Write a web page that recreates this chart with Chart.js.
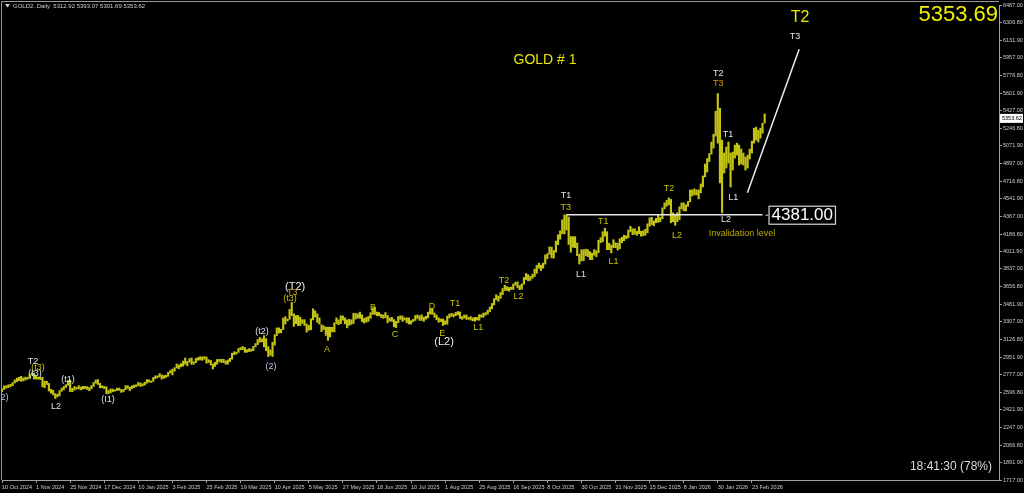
<!DOCTYPE html>
<html lang="en">
<head>
  <meta charset="UTF-8">
  <title>GOLD # 1</title>
  <script src="https://cdn.jsdelivr.net/npm/chart.js"></script>
  <style>
    html, body {
      margin: 0;
      padding: 0;
      background: #000;
      overflow: hidden;
    }
    #wrap {
      width: 1024px;
      height: 493px;
    }
  </style>
</head>
<body>
  <div id="wrap"><canvas id="chart" width="1024" height="493"></canvas></div>

  <script>
    // x axis labels, one every 16 daily bars
    const dateLabels = ['10 Oct 2024', '1 Nov 2024', '25 Nov 2024', '17 Dec 2024', '10 Jan 2025', '3 Feb 2025',
      '25 Feb 2025', '19 Mar 2025', '10 Apr 2025', '5 May 2025', '27 May 2025', '18 Jun 2025', '10 Jul 2025',
      '1 Aug 2025', '25 Aug 2025', '16 Sep 2025', '8 Oct 2025', '30 Oct 2025', '21 Nov 2025', '15 Dec 2025',
      '8 Jan 2026', '30 Jan 2026', '23 Feb 2026'];

    // price scale labels on the right
    const priceTicks = [6487.00, 6306.80, 6131.90, 5957.00, 5776.80, 5601.90, 5427.00, 5246.80, 5071.90, 4897.00,
      4716.80, 4541.90, 4367.00, 4186.80, 4011.90, 3837.00, 3656.80, 3481.90, 3307.00, 3126.80, 2951.90,
      2777.00, 2596.80, 2421.90, 2247.00, 2066.80, 1891.90, 1717.00];

    // daily bar highs / lows
    const highs = [
      2633, 2661, 2664, 2673, 2678, 2695, 2722, 2740, 2749, 2758,
      2742, 2750, 2749, 2775, 2790, 2790, 2763, 2750, 2750, 2749,
      2710, 2709, 2687, 2628, 2618, 2584, 2579, 2614, 2639, 2656,
      2674, 2716, 2721, 2638, 2656, 2647, 2665, 2651, 2658, 2657,
      2655, 2646, 2666, 2697, 2721, 2726, 2688, 2664, 2656, 2654,
      2616, 2632, 2630, 2622, 2639, 2640, 2627, 2627, 2664, 2665,
      2650, 2663, 2670, 2674, 2697, 2691, 2683, 2699, 2725, 2723,
      2711, 2747, 2763, 2763, 2786, 2772, 2766, 2770, 2799, 2817,
      2830, 2845, 2882, 2872, 2886, 2911, 2942, 2909, 2935, 2943,
      2904, 2938, 2947, 2955, 2954, 2956, 2952, 2925, 2918, 2882,
      2900, 2928, 2928, 2930, 2930, 2914, 2923, 2940, 2990, 3005,
      3001, 3038, 3048, 3057, 3047, 3025, 3036, 3032, 3060, 3087,
      3128, 3149, 3135, 3167, 3136, 3055, 3023, 3100, 3176, 3245,
      3245, 3231, 3344, 3357, 3333, 3430, 3500, 3386, 3368, 3370,
      3352, 3327, 3327, 3285, 3269, 3336, 3437, 3416, 3385, 3344,
      3276, 3265, 3252, 3252, 3252, 3250, 3295, 3345, 3325, 3365,
      3365, 3345, 3325, 3330, 3326, 3392, 3390, 3385, 3403, 3375,
      3340, 3350, 3360, 3397, 3446, 3451, 3404, 3399, 3380, 3375,
      3398, 3370, 3345, 3350, 3328, 3310, 3358, 3365, 3365, 3345,
      3346, 3345, 3317, 3330, 3369, 3375, 3366, 3377, 3352, 3361,
      3402, 3433, 3438, 3394, 3373, 3345, 3334, 3334, 3315, 3363,
      3385, 3390, 3385, 3400, 3409, 3404, 3358, 3375, 3374, 3350,
      3358, 3345, 3350, 3350, 3378, 3377, 3393, 3398, 3423, 3454,
      3490, 3539, 3578, 3564, 3600, 3640, 3674, 3659, 3650, 3655,
      3685, 3703, 3707, 3670, 3686, 3750, 3791, 3779, 3760, 3783,
      3835, 3872, 3895, 3875, 3895, 3977, 3990, 4059, 4055, 4022,
      4116, 4179, 4218, 4330, 4379, 4381, 4359, 4162, 4161, 4161,
      4096, 3985, 4030, 4030, 4035, 4030, 4010, 3995, 4030, 4020,
      4125, 4150, 4210, 4245, 4210, 4095, 4075, 4130, 4100, 4095,
      4140, 4155, 4175, 4170, 4228, 4265, 4240, 4240, 4215, 4260,
      4215, 4220, 4235, 4290, 4350, 4355, 4320, 4345, 4375, 4355,
      4450, 4500, 4525, 4550, 4535, 4400, 4385, 4400, 4460, 4500,
      4500, 4480, 4515, 4630, 4630, 4640, 4630, 4630, 4690, 4770,
      4890, 4945, 4995, 5110, 5190, 5420, 5598, 5450, 5130, 5000,
      5060, 5110, 5000, 5010, 5080, 5100, 5080, 5040, 5000, 4960,
      4980, 5040, 5120, 5250, 5260, 5230, 5250, 5300, 5393
    ];
    const lows = [
      2603, 2626, 2640, 2644, 2655, 2665, 2691, 2704, 2715, 2708,
      2712, 2721, 2730, 2736, 2771, 2731, 2730, 2730, 2725, 2652,
      2643, 2675, 2610, 2589, 2572, 2536, 2551, 2562, 2607, 2623,
      2646, 2668, 2605, 2603, 2620, 2630, 2632, 2622, 2630, 2635,
      2625, 2614, 2632, 2656, 2689, 2676, 2643, 2643, 2634, 2583,
      2583, 2593, 2603, 2609, 2616, 2617, 2597, 2603, 2624, 2637,
      2614, 2633, 2645, 2655, 2665, 2657, 2662, 2670, 2689, 2700,
      2697, 2707, 2734, 2743, 2752, 2730, 2738, 2748, 2758, 2791,
      2772, 2810, 2842, 2834, 2853, 2860, 2880, 2864, 2900, 2877,
      2880, 2895, 2920, 2922, 2919, 2930, 2890, 2897, 2872, 2832,
      2858, 2880, 2906, 2895, 2896, 2880, 2880, 2906, 2930, 2976,
      2981, 2998, 3024, 3027, 2999, 3000, 3007, 3010, 3015, 3054,
      3076, 3100, 3105, 3054, 3015, 2956, 2970, 2957, 3072, 3167,
      3193, 3194, 3228, 3284, 3315, 3330, 3367, 3260, 3287, 3266,
      3268, 3289, 3268, 3202, 3220, 3226, 3325, 3353, 3300, 3283,
      3207, 3228, 3169, 3120, 3153, 3205, 3204, 3285, 3277, 3287,
      3322, 3285, 3245, 3270, 3280, 3290, 3333, 3343, 3340, 3307,
      3293, 3302, 3310, 3340, 3380, 3380, 3366, 3366, 3348, 3340,
      3347, 3296, 3312, 3310, 3255, 3247, 3297, 3330, 3310, 3323,
      3296, 3283, 3283, 3308, 3320, 3340, 3320, 3319, 3310, 3332,
      3345, 3383, 3381, 3351, 3325, 3301, 3307, 3268, 3281, 3281,
      3344, 3360, 3355, 3367, 3375, 3340, 3330, 3343, 3330, 3330,
      3323, 3315, 3311, 3324, 3321, 3351, 3351, 3372, 3383, 3408,
      3436, 3475, 3526, 3512, 3540, 3578, 3620, 3621, 3613, 3630,
      3630, 3673, 3646, 3628, 3634, 3683, 3730, 3717, 3721, 3743,
      3760, 3792, 3844, 3820, 3845, 3885, 3939, 3983, 3947, 3945,
      4005, 4080, 4135, 4190, 4188, 4228, 4082, 4004, 4054, 4050,
      3970, 3886, 3917, 3920, 3970, 3960, 3930, 3930, 3975, 3960,
      4000, 4100, 4110, 4165, 4030, 4030, 3997, 4050, 4050, 4025,
      4040, 4100, 4120, 4140, 4150, 4210, 4180, 4185, 4175, 4190,
      4165, 4170, 4175, 4200, 4265, 4280, 4270, 4300, 4305, 4310,
      4340, 4440, 4465, 4480, 4300, 4310, 4275, 4310, 4330, 4440,
      4420, 4420, 4465, 4510, 4570, 4580, 4580, 4540, 4600, 4660,
      4760, 4810, 4915, 4990, 5050, 5170, 5100, 4700, 4400, 4800,
      4850, 4900, 4660, 4830, 4950, 4980, 4880, 4890, 4880, 4830,
      4850, 4940, 5000, 5100, 5130, 5110, 5150, 5200, 5302
    ];

    const lastPrice = 5353.62;
    const headerText = 'GOLD2..Daily  5312.92 5393.07 5301.69 5353.62';

    // horizontal invalidation line and the projected trend line
    const invalidLevel = 4381.00;
    const invalidBars = [265, 357];
    const trendBars = [349.9, 374.2];
    const trendPrices = [4602, 6042];

    // wave labels: text, bar index, price, style key
    const waveText = ['(2)', 'T2', '(t3)', '(t3)', 'L2', '(t1)', '(I1)', '(t2)', '(2)', '(T2)', 'T3', '(t3)',
      'A', 'B', 'C', 'D', 'E', '(L2)', 'T1', 'L1', 'T2', 'L2', 'T1', 'T3', 'L1', 'T1', 'L1', 'T2', 'L2',
      'T2', 'T3', 'T1', 'L1', 'L2', 'Invalidation level', 'GOLD # 1', 'T2', 'T3'];
    const waveBar = [0.5, 14.6, 16.9, 15.5, 25.4, 31, 49.8, 122, 126.3, 137.6, 136.2, 135.2,
      152.6, 174.2, 184.5, 201.9, 206.6, 207.5, 212.7, 223.5, 235.7, 242.5, 264.8, 264.6, 271.8, 282.2, 287,
      313.1, 316.9, 336.2, 336.2, 340.8, 343.2, 339.9, 347.4, 254.9, 374.6, 372.3];
    const wavePrice = [2550, 2902, 2842, 2791, 2450, 2731, 2530, 3213, 2852, 3655, 3595, 3544,
      3023, 3454, 3173, 3464, 3193, 3103, 3494, 3253, 3725, 3555, 4569, 4449, 3776, 4308, 3916,
      4649, 4177, 5794, 5694, 5182, 4549, 4328, 4197, 5935, 6356, 6166];
    const waveKind = ['b', 'w', 'y', 'w', 'w', 'w', 'w', 'w', 'b', 'W', 'o', 'y',
      'y', 'y', 'y', 'y', 'y', 'W', 'y', 'y', 'y', 'y', 'w', 'y', 'w', 'y', 'y', 'y', 'y',
      'w', 'o', 'w', 'w', 'w', 'i', 'g', 'G', 'w'];

    const kindStyle = {
      w: { color: '#dde4ee', size: 9 },
      b: { color: '#b4c8ec', size: 9 },
      y: { color: '#c8c400', size: 9 },
      o: { color: '#d89c00', size: 9 },
      i: { color: '#b8ac00', size: 9 },
      W: { color: '#e8eef6', size: 11 },
      g: { color: '#e8e800', size: 14 },
      G: { color: '#e8e800', size: 16 }
    };

    const fontFamily = '"Liberation Sans", Arial, sans-serif';
    const axisFont = { family: '"Liberation Sans", Arial, sans-serif', size: 5.5 };

    const bars = highs.map((h, i) => ({ x: i, y: [lows[i], h] }));

    const overlay = {
      id: 'overlay',
      afterDatasetsDraw(chart) {
        const c = chart.ctx;
        const xs = chart.scales.x;
        const ys = chart.scales.y;
        const area = chart.chartArea;
        c.save();

        // window frame
        c.strokeStyle = '#9a9a9a';
        c.lineWidth = 1;
        c.beginPath();
        c.moveTo(1.5, area.bottom);
        c.lineTo(1.5, 1.5);
        c.lineTo(area.right, 1.5);
        c.stroke();

        // wave labels
        c.textAlign = 'center';
        c.textBaseline = 'middle';
        waveText.forEach((t, k) => {
          const st = kindStyle[waveKind[k]];
          c.font = st.size + 'px ' + fontFamily;
          c.fillStyle = st.color;
          c.fillText(t, xs.getPixelForValue(waveBar[k]), ys.getPixelForValue(wavePrice[k]));
        });

        // 4381.00 price box at the end of the line
        const lx = xs.getPixelForValue(invalidBars[1]);
        const ly = ys.getPixelForValue(invalidLevel);
        c.strokeStyle = '#e0e0e0';
        c.beginPath();
        c.moveTo(lx + 3, ly + 0.5);
        c.lineTo(lx + 6, ly + 0.5);
        c.stroke();
        c.font = '17px ' + fontFamily;
        const label = invalidLevel.toFixed(2);
        const w = c.measureText(label).width + 5;
        c.fillStyle = '#000';
        c.fillRect(lx + 6, ly - 9, w, 18);
        c.strokeStyle = '#d8d8d8';
        c.lineWidth = 1.2;
        c.strokeRect(lx + 6.5, ly - 8.5, w, 18);
        c.fillStyle = '#ffffff';
        c.textAlign = 'left';
        c.fillText(label, lx + 9, ly + 1);

        // current price marker on the price scale
        const py = ys.getPixelForValue(lastPrice);
        c.fillStyle = '#ffffff';
        c.fillRect(area.right + 1, py - 4, 23, 9);
        c.fillStyle = '#000';
        c.font = '5.5px ' + fontFamily;
        c.fillText(lastPrice.toFixed(2), area.right + 3, py + 0.5);

        // header, big price and timer
        c.fillStyle = '#d0d0d0';
        c.beginPath();
        c.moveTo(5, 4);
        c.lineTo(10, 4);
        c.lineTo(7.5, 7.5);
        c.closePath();
        c.fill();
        c.font = '6px ' + fontFamily;
        c.fillText(headerText, 13, 6);

        c.textAlign = 'right';
        c.fillStyle = '#f0f000';
        c.font = '22px ' + fontFamily;
        c.fillText('5353.69', area.right - 1, 15);

        c.fillStyle = '#dcdcdc';
        c.font = '12px ' + fontFamily;
        c.fillText('18:41:30 (78%)', area.right - 7, 467);
        c.restore();
      }
    };

    const ctx = document.getElementById('chart').getContext('2d');
    new Chart(ctx, {
      type: 'bar',
      data: {
        datasets: [
          {
            type: 'bar',
            data: bars,
            backgroundColor: '#c4c414',
            barThickness: 1.5,
            order: 3
          },
          {
            type: 'line',
            data: invalidBars.map(b => ({ x: b, y: invalidLevel })),
            borderColor: '#e8e8e8',
            borderWidth: 1.5,
            pointRadius: 0,
            order: 1
          },
          {
            type: 'line',
            data: trendBars.map((b, k) => ({ x: b, y: trendPrices[k] })),
            borderColor: '#ececec',
            borderWidth: 1.5,
            pointRadius: 0,
            order: 1
          }
        ]
      },
      options: {
        responsive: false,
        animation: false,
        devicePixelRatio: 1,
        layout: { padding: { left: 2, top: 5, right: 0, bottom: 0 } },
        plugins: {
          legend: { display: false },
          tooltip: { enabled: false }
        },
        scales: {
          x: {
            type: 'linear',
            offset: false,
            min: 0,
            max: 468,
            afterBuildTicks: s => { s.ticks = dateLabels.map((_, k) => ({ value: k * 16 })); },
            afterFit: s => { s.height = 13; s.paddingLeft = 0; s.paddingRight = 0; },
            ticks: {
              callback: v => dateLabels[Math.round(v / 16)],
              color: '#cfcfcf',
              font: axisFont,
              align: 'start',
              maxRotation: 0,
              autoSkip: false,
              padding: 1
            },
            grid: { offset: false, drawOnChartArea: false, tickLength: 3, color: '#a0a0a0' },
            border: { color: '#a0a0a0' }
          },
          y: {
            position: 'right',
            min: 1717,
            max: 6487,
            afterBuildTicks: s => { s.ticks = priceTicks.map(v => ({ value: v })); },
            afterFit: s => { s.width = 25; s.paddingTop = 0; s.paddingBottom = 0; },
            ticks: {
              callback: v => v.toFixed(2),
              color: '#cfcfcf',
              font: axisFont,
              autoSkip: false,
              padding: 1
            },
            grid: { drawOnChartArea: false, tickLength: 3, color: '#a0a0a0' },
            border: { color: '#a0a0a0' }
          }
        }
      },
      plugins: [overlay]
    });
  </script>
</body>
</html>
